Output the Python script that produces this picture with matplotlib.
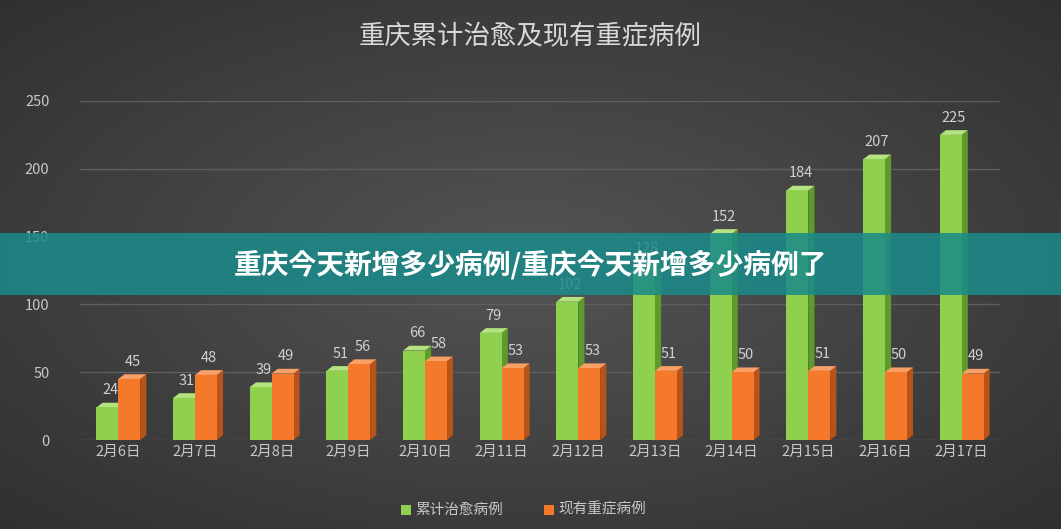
import numpy as np
import matplotlib
matplotlib.use("Agg")
import matplotlib.pyplot as plt
from matplotlib.patches import Polygon, Rectangle

plt.rcParams['font.family'] = ['Noto Sans CJK JP', 'Noto Sans CJK SC', 'Noto Sans CJK TC', 'DejaVu Sans']

dates = ["2月6日","2月7日","2月8日","2月9日","2月10日","2月11日","2月12日","2月13日","2月14日","2月15日","2月16日","2月17日"]
cured = [24,31,39,51,66,79,102,128,152,184,207,225]
severe = [45,48,49,56,58,53,53,51,50,51,50,49]
title = "重庆累计治愈及现有重症病例"
series_names = ["累计治愈病例", "现有重症病例"]
banner = "重庆今天新增多少病例/重庆今天新增多少病例了"

fig = plt.figure(figsize=(10.61, 5.29), dpi=100)
bg = fig.add_axes([0, 0, 1, 1])
yy, xx = np.mgrid[-1:1:200j, -1:1:400j]
r = np.sqrt(xx**2 + yy**2)
g = 0.33 - 0.1 * r
bg.imshow(np.dstack([g, g, g]), extent=[0, 1, 0, 1], aspect='auto', zorder=0)
bg.set_xlim(0, 1); bg.set_ylim(0, 1); bg.axis('off')

ax = fig.add_axes([80/1061, 89/529, 920/1061, 339/529])
ax.set_facecolor('none')
ax.set_xlim(-0.5, len(dates) - 0.5)
ax.set_ylim(0, 250)
ax.set_yticks(range(0, 251, 50))
ax.grid(axis='y', color='#5e5e5e', lw=1)
ax.set_axisbelow(True)
for s in ax.spines.values():
    s.set_visible(False)
ax.tick_params(length=0, colors='#c8c8c8', labelsize=10.5)
ax.set_xticks(range(len(dates)))
ax.set_xticklabels(dates)
ax.tick_params(axis='y', pad=22)

w = 0.285
dx, dy = 0.08, 3.5
colors = [('#8fd14f', '#5e9a2c', '#b4e37f'), ('#f4792b', '#b8531a', '#f9a066')]
for si, (vals, (fc, sc, tc)) in enumerate(zip([cured, severe], colors)):
    for i, v in enumerate(vals):
        x0 = i - w + si * w
        x1 = x0 + w
        ax.add_patch(Polygon([(x1, 0), (x1 + dx, dy), (x1 + dx, v + dy), (x1, v)], closed=True, fc=sc, ec='none', zorder=2))
        ax.add_patch(Polygon([(x0, v), (x0 + dx, v + dy), (x1 + dx, v + dy), (x1, v)], closed=True, fc=tc, ec='none', zorder=2))
        ax.add_patch(Rectangle((x0, 0), w, v, fc=fc, ec='none', zorder=3))
        ax.text(x0 + w / 2 + dx / 2, v + dy + 4, str(v), ha='center', va='bottom', color='#d0d0d0', fontsize=10.5, zorder=4)

fig.text(0.5, 0.93, title, ha='center', va='center', color='#d9d9d9', fontsize=19)

hx = 0.378
for name, (fc, _, _) in zip(series_names, colors):
    fig.add_artist(Rectangle((hx, 0.027), 0.009, 0.018, transform=fig.transFigure, fc=fc, ec='none'))
    fig.text(hx + 0.013, 0.036, name, va='center', color='#c8c8c8', fontsize=10.5)
    hx += 0.135

fig.add_artist(Rectangle((0, 234/529), 1, 62/529, transform=fig.transFigure, fc='#1a8a8a', alpha=0.85, ec='none', zorder=10))
fig.text(0.5, 1 - 265/529, banner, ha='center', va='center', color='white', fontsize=20, fontweight='bold', zorder=11)

fig.savefig("out.png", dpi=100)
